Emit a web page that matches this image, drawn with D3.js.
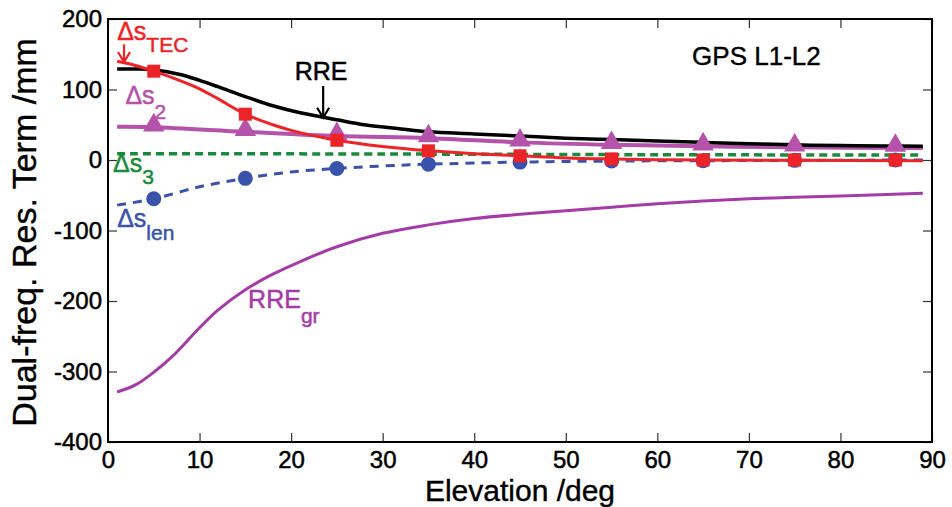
<!DOCTYPE html>
<html>
<head>
<meta charset="utf-8">
<script src="https://cdn.jsdelivr.net/npm/d3@7"></script>
<style>
  html, body { margin: 0; padding: 0; background: #fff; }
  svg { display: block; }
  text { font-family: "Liberation Sans", Arial, Helvetica, sans-serif; }
</style>
</head>
<body>
<svg id="chart" width="952" height="507"></svg>
<script>
// ---------------- data ----------------
const xTicks = [0, 10, 20, 30, 40, 50, 60, 70, 80, 90];
const yTicks = [200, 100, 0, -100, -200, -300, -400];
const markerElev = [5, 15, 25, 35, 45, 55, 65, 75, 86];

// RRE (black solid)
const rreElev = [1, 3, 5, 8, 10, 12, 15, 18, 21, 25, 28, 32, 35, 40, 45, 50, 55, 60, 65, 70, 75, 80, 85, 89];
const rreVal  = [129, 129, 128, 121, 113, 104, 90, 77, 67, 57, 50, 44, 40, 37, 34, 31, 29, 27, 25, 23, 21.5, 20.5, 20, 19.5];

// Delta s_TEC (red solid, squares)
const tecElev = [1, 3, 5, 8, 10, 12, 15, 18, 20, 25, 30, 35, 40, 45, 50, 55, 60, 65, 75, 89];
const tecVal  = [140, 134, 126, 112, 101, 87, 65, 50, 42, 28, 19, 13, 9, 6, 3, 1.5, 0.5, 0, -0.5, -1];
const tecMarkers = [126, 65, 28, 13, 6, 1.5, 0, 0, 0];

// Delta s_2 (magenta solid, triangles)
const s2Elev = [1, 5, 15, 25, 35, 45, 55, 65, 75, 89];
const s2Val  = [47, 46.5, 40, 34, 31, 25, 21.5, 19.5, 18, 17];
const s2Markers = [46.5, 40, 34, 31, 25, 21.5, 19.5, 18, 17.5];

// Delta s_3 (green dashed)
const s3Elev = [1, 30, 60, 89];
const s3Val  = [9, 8.5, 7.5, 7];

// Delta s_len (blue dashed, circles)
const lenElev = [1, 5, 10, 15, 20, 25, 30, 35, 45, 55, 65, 75, 89];
const lenVal  = [-64, -55, -38, -26, -17, -12, -8.5, -6, -3, -1.5, -1, -0.5, 0];
const lenMarkers = [-55, -26, -12, -6, -3, -1.5, -1, -0.5, 0];

// RRE_gr (purple solid)
const grElev = [1, 3, 5, 7, 10, 12, 15, 18, 21, 25, 30, 35, 40, 45, 50, 55, 60, 65, 70, 75, 80, 85, 89];
const grVal  = [-329, -319, -301, -279, -238, -213, -184, -162, -144, -123, -104, -92, -83, -77, -72, -67, -62, -58, -55, -53, -51, -49, -47];

// ---------------- layout ----------------
const svg = d3.select("#chart");
const mL = 108, mR = 932, mT = 19, mB = 442;
const x = d3.scaleLinear().domain([0, 90]).range([mL, mR]);
const y = d3.scaleLinear().domain([-400, 200]).range([mB, mT]);

const C = {
  red: "#ec2327", black: "#000000", s2: "#b552a9", green: "#1b8a3c",
  blue: "#3953ab", gr: "#a43ca5"
};

const line = d3.line().x(d => x(d[0])).y(d => y(d[1])).curve(d3.curveCatmullRom.alpha(0.5));
const zip = (a, b) => a.map((v, i) => [v, b[i]]);

const g = svg.append("g");

svg.append("defs").append("clipPath").attr("id", "clip")
  .append("rect").attr("x", mL).attr("y", mT).attr("width", mR - mL).attr("height", mB - mT);
const plot = g.append("g").attr("clip-path", "url(#clip)");

// RRE_gr
plot.append("path").attr("d", line(zip(grElev, grVal)))
  .attr("fill", "none").attr("stroke", C.gr).attr("stroke-width", 3);

// Delta s3
plot.append("path").attr("d", line(zip(s3Elev, s3Val)))
  .attr("fill", "none").attr("stroke", C.green).attr("stroke-width", 3.5)
  .attr("stroke-dasharray", "8,5");

// Delta s_len
plot.append("path").attr("d", line(zip(lenElev, lenVal)))
  .attr("fill", "none").attr("stroke", C.blue).attr("stroke-width", 3)
  .attr("stroke-dasharray", "9,7");
plot.selectAll(".circ").data(zip(markerElev, lenMarkers)).join("circle")
  .attr("cx", d => x(d[0])).attr("cy", d => y(d[1])).attr("r", 7.5).attr("fill", C.blue);

// Delta s2 line
plot.append("path").attr("d", line(zip(s2Elev, s2Val)))
  .attr("fill", "none").attr("stroke", C.s2).attr("stroke-width", 4);

// RRE
plot.append("path").attr("d", line(zip(rreElev, rreVal)))
  .attr("fill", "none").attr("stroke", C.black).attr("stroke-width", 3.5);

// triangles
const tri = d3.symbol().type(d3.symbolTriangle).size(200);
plot.selectAll(".tri").data(zip(markerElev, s2Markers)).join("path")
  .attr("d", tri).attr("transform", d => `translate(${x(d[0])},${y(d[1]) - 2})`)
  .attr("fill", C.s2);

// TEC
plot.append("path").attr("d", line(zip(tecElev, tecVal)))
  .attr("fill", "none").attr("stroke", C.red).attr("stroke-width", 3);
plot.selectAll(".sq").data(zip(markerElev, tecMarkers)).join("rect")
  .attr("x", d => x(d[0]) - 6.5).attr("y", d => y(d[1]) - 6.5)
  .attr("width", 13).attr("height", 13).attr("fill", C.red);

// ---------------- axes ----------------
const tickLen = 9;
const fmt = d => String(d);
const axB = g.append("g").attr("transform", `translate(0,${mB})`)
  .call(d3.axisBottom(x).tickValues(xTicks).tickFormat(fmt).tickSizeInner(-tickLen).tickSizeOuter(0).tickPadding(9));
const axT = g.append("g").attr("transform", `translate(0,${mT})`)
  .call(d3.axisTop(x).tickValues(xTicks).tickSizeInner(-tickLen).tickSizeOuter(0).tickFormat(""));
const axL = g.append("g").attr("transform", `translate(${mL},0)`)
  .call(d3.axisLeft(y).tickValues(yTicks).tickFormat(fmt).tickSizeInner(-tickLen).tickSizeOuter(0).tickPadding(6));
const axR = g.append("g").attr("transform", `translate(${mR},0)`)
  .call(d3.axisRight(y).tickValues(yTicks).tickSizeInner(-tickLen).tickSizeOuter(0).tickFormat(""));

[axB, axT, axL, axR].forEach(a => {
  a.select(".domain").remove();
  a.selectAll(".tick line").attr("stroke", "#333").attr("stroke-width", 1.2);
});
[axB, axL].forEach(a => a.selectAll(".tick text").attr("font-size", 24).attr("fill", "#000")
  .attr("stroke", "#000").attr("stroke-width", 0.5)
  .attr("font-family", "Liberation Sans, Arial, sans-serif"));
axB.selectAll(".tick text").attr("dy", "0.71em");

g.append("rect").attr("x", mL).attr("y", mT).attr("width", mR - mL).attr("height", mB - mT)
  .attr("fill", "none").attr("stroke", "#000").attr("stroke-width", 2);

// axis titles
g.append("text").attr("x", x(45)).attr("y", 501).attr("text-anchor", "middle")
  .attr("font-size", 30).attr("stroke", "#000").attr("stroke-width", 0.4).text("Elevation /deg");
g.append("text").attr("transform", `translate(36,${y(-100) + 2}) rotate(-90)`)
  .attr("text-anchor", "middle").attr("font-size", 34).attr("stroke", "#000").attr("stroke-width", 0.4)
  .text("Dual-freq. Res. Term /mm");

// ---------------- annotations ----------------
function label(e, v, main, sub, color, size, subSize, dy) {
  const t = g.append("text").attr("x", x(e)).attr("y", y(v)).attr("fill", color).attr("font-size", size)
    .attr("stroke", color).attr("stroke-width", 0.5);
  t.append("tspan").text(main);
  t.append("tspan").attr("font-size", subSize).attr("dy", dy).text(sub);
}
label(1.0, 170, "Δs", "TEC", C.red, 25, 21, 12);
label(20.4, 113.5, "RRE", "", C.black, 25, 21, 0);
label(1.9, 79.5, "Δs", "2", C.s2, 25, 21, 15);
label(0.55, -17, "Δs", "3", C.green, 25, 21, 12);
label(1.0, -95, "Δs", "len", C.blue, 25, 21, 13);
label(15.3, -210, "RRE", "gr", C.gr, 25, 21, 15);

g.append("text").attr("x", x(63.8)).attr("y", y(134.5)).attr("font-size", 26)
  .attr("fill", "#000").attr("stroke", "#000").attr("stroke-width", 0.4).text("GPS L1-L2");

// arrows
function arrow(e, v1, v2, color) {
  const x0 = x(e), y1 = y(v1), y2 = y(v2);
  g.append("line").attr("x1", x0).attr("x2", x0).attr("y1", y1).attr("y2", y2 - 2)
    .attr("stroke", color).attr("stroke-width", 2.2);
  g.append("path").attr("d", `M${x0 - 6},${y2 - 10} L${x0},${y2} L${x0 + 6},${y2 - 10}`)
    .attr("fill", "none").attr("stroke", color).attr("stroke-width", 2.2);
}
arrow(1.75, 164, 139, C.red);
arrow(23.5, 105, 60, C.black);
</script>
</body>
</html>
